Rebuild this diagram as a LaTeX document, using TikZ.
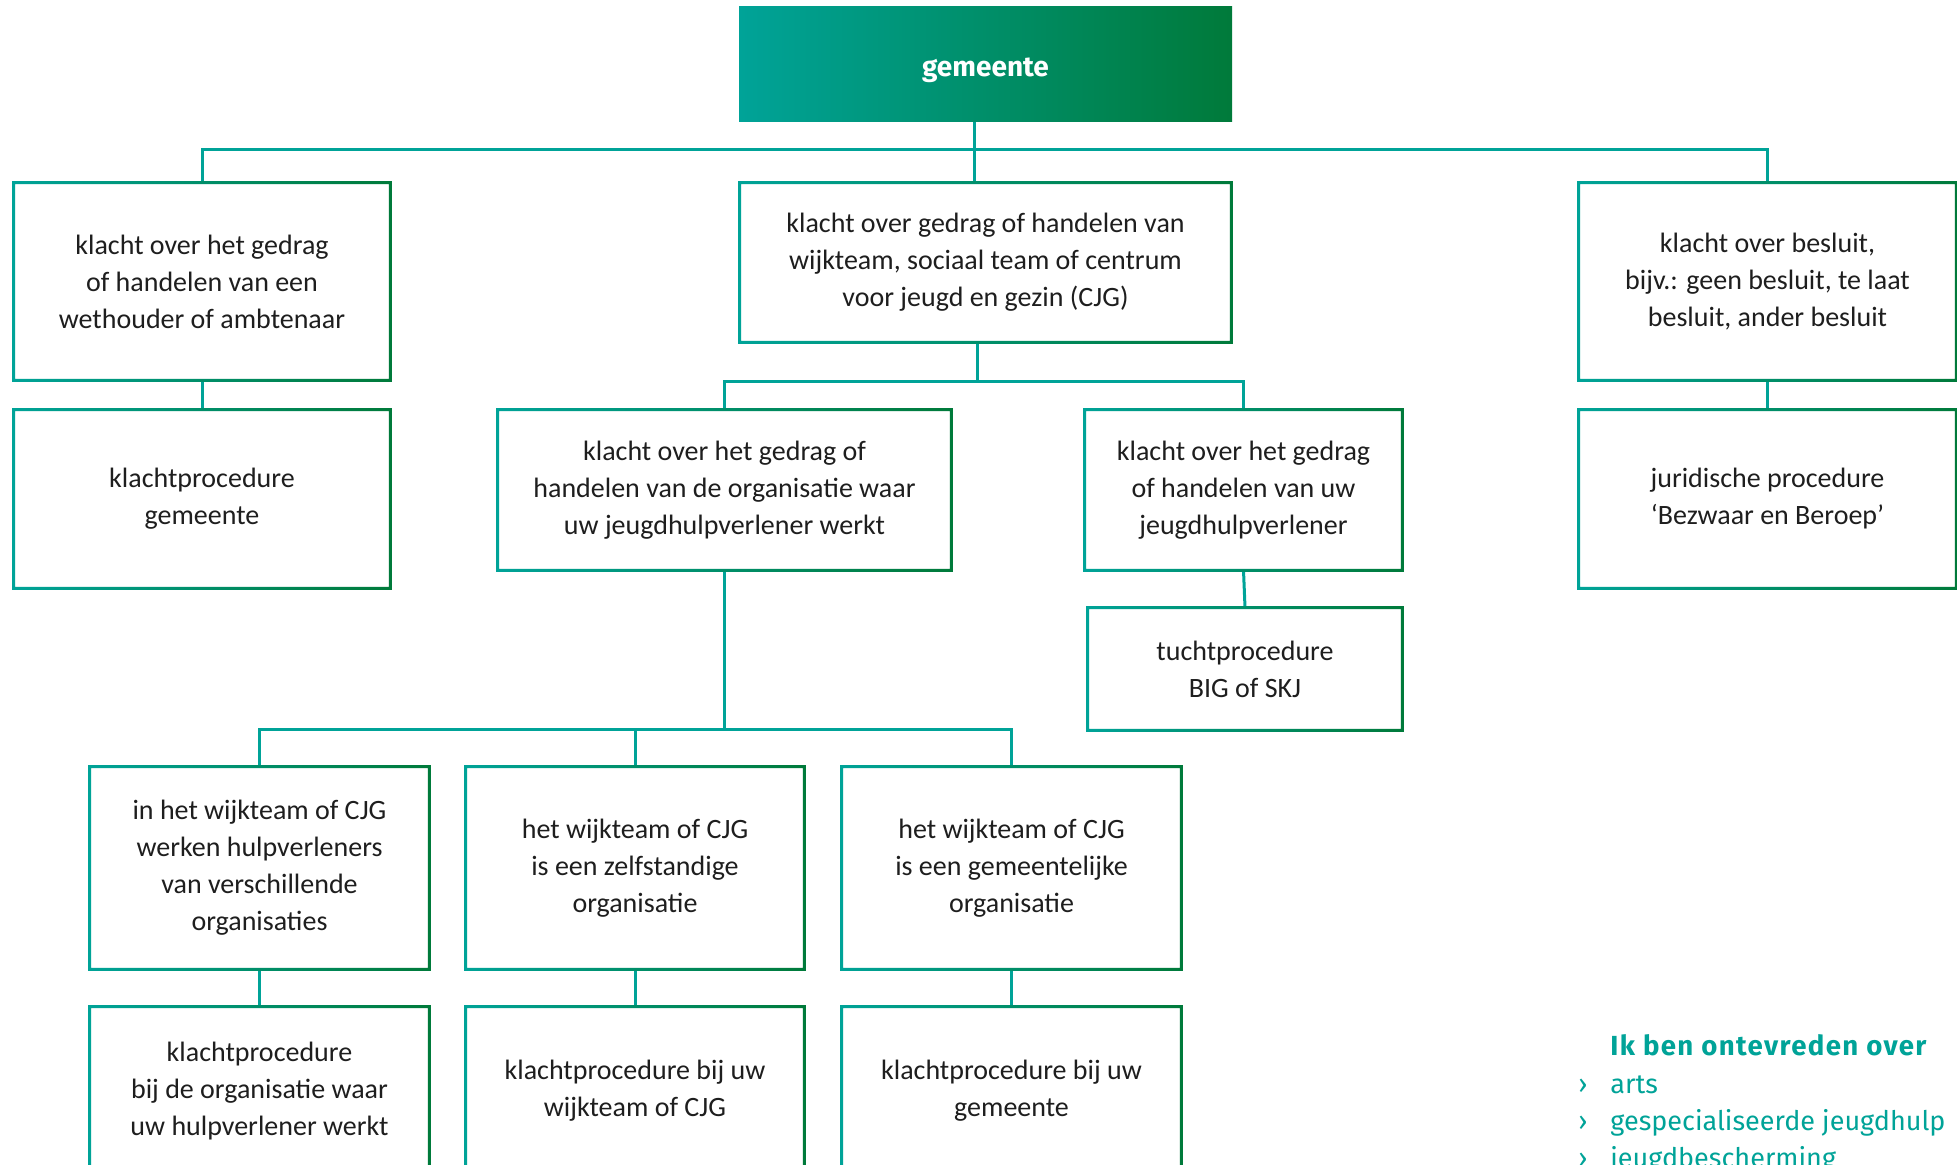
\documentclass[tikz,border=0pt]{standalone}
\usepackage{fontspec}
\setmainfont{Carlito}
\newfontfamily\fira{Fira Sans}
\newfontfamily\firals[LetterSpace=5]{Fira Sans}
\definecolor{tealc}{RGB}{0,163,152}
\definecolor{greenc}{RGB}{0,122,58}
\definecolor{txt}{RGB}{30,30,30}
\tikzset{
  box/.style={rectangle, inner sep=0pt, align=center, text=txt, font=\fontsize{14}{18.5}\selectfont},
  conn/.style={draw=tealc, line width=1.5pt},
  side/.style={inner sep=0pt, anchor=base west, text=tealc, font=\fira\fontsize{13.5}{16}\selectfont},
}
\newcommand\gframe[1]{\shade[left color=tealc,right color=greenc,even odd rule]
  ([xshift=-0.75pt,yshift=0.75pt]#1.north west) rectangle ([xshift=0.75pt,yshift=-0.75pt]#1.south east)
  ([xshift=0.75pt,yshift=-0.75pt]#1.north west) rectangle ([xshift=-0.75pt,yshift=0.75pt]#1.south east);}
\begin{document}
\begin{tikzpicture}[x=0.5pt,y=-0.5pt]
\useasboundingbox (0,0) rectangle (1957,1165);
\clip (0,0) rectangle (1957,1165);
\fill[white] (0,0) rectangle (1957,1165);
% top
\node[rectangle, inner sep=0pt, left color=tealc, right color=greenc, minimum width=246.5pt, minimum height=57.5pt, text=white, font=\fira\bfseries\fontsize{14}{16}\selectfont] (gem) at (985.5,64.5) {\raisebox{-3pt}[\height][\depth]{gemeente}};
% row 1
\node[box, minimum width=188pt, minimum height=98.5pt] (l1) at (202,281.5) {klacht over het gedrag\\of handelen van een\\wethouder of ambtenaar};
\node[box, minimum width=188pt, minimum height=89pt] (l2) at (202,499) {klachtprocedure\\gemeente};
\node[box, minimum width=245.5pt, minimum height=79.5pt] (c1) at (985.5,262.5) {klacht over gedrag of handelen van\\wijkteam, sociaal team of centrum\\voor jeugd en gezin (CJG)};
\node[box, minimum width=188.5pt, minimum height=98.5pt] (r1) at (1767.5,281.5) {klacht over besluit,\\bijv.: geen besluit, te laat\\besluit, ander besluit};
\node[box, minimum width=188.5pt, minimum height=89pt] (r2) at (1767.5,499) {juridische procedure\\‘Bezwaar en Beroep’};
% row 2
\node[box, minimum width=226.5pt, minimum height=80pt] (m1) at (724.5,490) {klacht over het gedrag of\\handelen van de organisatie waar\\uw jeugdhulpverlener werkt};
\node[box, minimum width=158.5pt, minimum height=80pt] (m2) at (1243.5,490) {klacht over het gedrag\\of handelen van uw\\jeugdhulpverlener};
\node[box, minimum width=157pt, minimum height=61pt] (t) at (1245,669) {tuchtprocedure\\BIG of SKJ};
% row 3
\node[box, minimum width=169.5pt, minimum height=101pt] (x1) at (259.5,868) {in het wijkteam of CJG\\werken hulpverleners\\van verschillende\\organisaties};
\node[box, minimum width=169pt, minimum height=101pt] (x2) at (635,868) {het wijkteam of CJG\\is een zelfstandige\\organisatie};
\node[box, minimum width=169.5pt, minimum height=101pt] (x3) at (1011.5,868) {het wijkteam of CJG\\is een gemeentelijke\\organisatie};
% row 4
\node[box, minimum width=169.5pt, minimum height=84pt] (y1) at (259.5,1091) {klachtprocedure\\bij de organisatie waar\\uw hulpverlener werkt};
\node[box, minimum width=169pt, minimum height=84pt] (y2) at (635,1091) {klachtprocedure bij uw\\wijkteam of CJG};
\node[box, minimum width=169.5pt, minimum height=84pt] (y3) at (1011.5,1091) {klachtprocedure bij uw\\gemeente};
% connectors
\coordinate (b1) at (974,150);
\coordinate (b2) at (977,382);
\coordinate (b3) at (724.5,729);
\draw[conn] (gem.south -| b1) -- (c1.north -| b1);
\draw[conn] (l1.north) |- (b1) -| (r1.north);
\draw[conn] (l1.south) -- (l2.north);
\draw[conn] (r1.south) -- (r2.north);
\draw[conn] (c1.south -| b2) -- (b2);
\draw[conn] (m1.north) |- (b2) -| (m2.north);
\draw[conn] (m2.south) -- (t.north);
\draw[conn] (m1.south) -- (b3);
\draw[conn] (x1.north) |- (b3) -| (x3.north);
\draw[conn] (x2.north) -- (x2.north |- b3);
\draw[conn] (x1.south) -- (y1.north);
\draw[conn] (x2.south) -- (y2.north);
\draw[conn] (x3.south) -- (y3.north);
% frames
\foreach \n in {l1,l2,c1,r1,r2,m1,m2,t,x1,x2,x3,y1,y2,y3} {\gframe{\n}}
% sidebar
\node[side, font=\firals\bfseries\fontsize{13.8}{16}\selectfont] (h) at (1610,1055) {Ik ben ontevreden over};
\node[side] (s1b) at (1578,1093) {›};
\node[side] (s1) at (1610,1093) {arts};
\node[side] (s2b) at (1578,1130) {›};
\node[side] (s2) at (1610,1130) {gespecialiseerde jeugdhulp};
\node[side] (s3b) at (1578,1167) {›};
\node[side] (s3) at (1610,1167) {jeugdbescherming};
\end{tikzpicture}
\end{document}
